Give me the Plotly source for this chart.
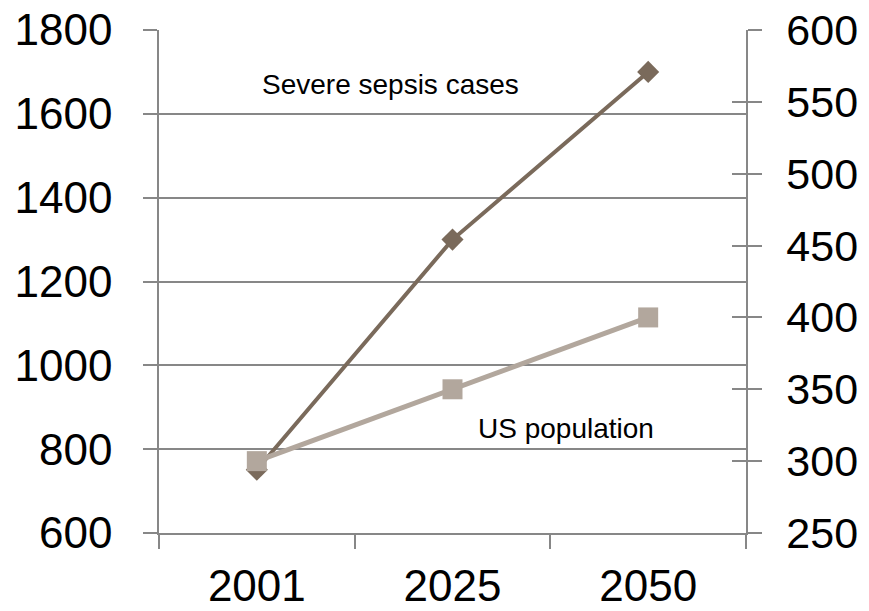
import plotly.graph_objects as go

# Projected severe sepsis cases (thousands) vs US population (millions)
years = ["2001", "2025", "2050"]
sepsis_cases = [751, 1300, 1700]
us_population = [300, 350, 400]

left_ticks = [600, 800, 1000, 1200, 1400, 1600, 1800]
right_ticks = [250, 300, 350, 400, 450, 500, 550, 600]

FONT = "Liberation Sans, Arial, sans-serif"
AXIS_GREY = "#878787"
SEPSIS_COLOR = "#7a6a5b"
POP_COLOR = "#b2a79d"

fig = go.Figure()

fig.add_trace(go.Scatter(
    x=years, y=sepsis_cases, name="Severe sepsis cases",
    mode="lines+markers",
    line=dict(color=SEPSIS_COLOR, width=4),
    marker=dict(symbol="diamond", size=17, color=SEPSIS_COLOR),
    yaxis="y",
))

# invisible carrier so the inner right-hand tick marks are rendered
fig.add_trace(go.Scatter(x=years, y=us_population, yaxis="y3", mode="none",
                         showlegend=False, hoverinfo="skip"))

fig.add_trace(go.Scatter(
    x=years, y=us_population, name="US population",
    mode="lines+markers",
    line=dict(color=POP_COLOR, width=5),
    marker=dict(symbol="square", size=20, color=POP_COLOR),
    yaxis="y2",
))

fig.update_layout(
    width=869, height=611,
    margin=dict(l=159, r=123, t=30, b=78),
    paper_bgcolor="white", plot_bgcolor="white",
    showlegend=False,
    font=dict(family=FONT, color="black"),
    xaxis=dict(
        type="category", tickson="boundaries", automargin=False,
        range=[-0.5, len(years) - 0.5],
        ticks="outside", ticklen=14, tickcolor=AXIS_GREY, tickwidth=1.5,
        showline=True, linecolor=AXIS_GREY, linewidth=1.5,
        showgrid=False, tickfont=dict(size=44),
        ticklabelstandoff=13,
    ),
    yaxis=dict(
        range=[600, 1800], tickvals=left_ticks, automargin=False,
        ticks="outside", ticklen=14, tickcolor=AXIS_GREY, tickwidth=1.5,
        showline=True, linecolor=AXIS_GREY, linewidth=1.5,
        showgrid=True, gridcolor=AXIS_GREY, gridwidth=1.5,
        zeroline=False, tickfont=dict(size=44),
        ticklabelstandoff=22,
    ),
    yaxis2=dict(
        range=[250, 600], tickvals=right_ticks, automargin=False,
        overlaying="y", side="right", anchor="x",
        ticks="outside", ticklen=14, tickcolor=AXIS_GREY, tickwidth=1.5,
        showline=True, linecolor=AXIS_GREY, linewidth=1.5,
        showgrid=False, zeroline=False, tickfont=dict(size=43),
        ticklabelstandoff=16,
    ),
    yaxis3=dict(
        range=[250, 600], tickvals=right_ticks, automargin=False,
        overlaying="y", side="right", anchor="x",
        ticks="inside", ticklen=14, tickcolor=AXIS_GREY, tickwidth=1.5,
        showticklabels=False, showline=False, showgrid=False, zeroline=False,
    ),
    annotations=[
        dict(text="Severe sepsis cases", xref="paper", yref="paper",
             x=(390 - 159) / (746 - 159), y=(533 - 84) / 503,
             showarrow=False, font=dict(size=28, color="black"),
             xanchor="center", yanchor="middle"),
        dict(text="US population", xref="paper", yref="paper",
             x=(566 - 159) / (746 - 159), y=(533 - 428) / 503,
             showarrow=False, font=dict(size=28, color="black"),
             xanchor="center", yanchor="middle"),
    ],
)

fig.write_html("out.html")
